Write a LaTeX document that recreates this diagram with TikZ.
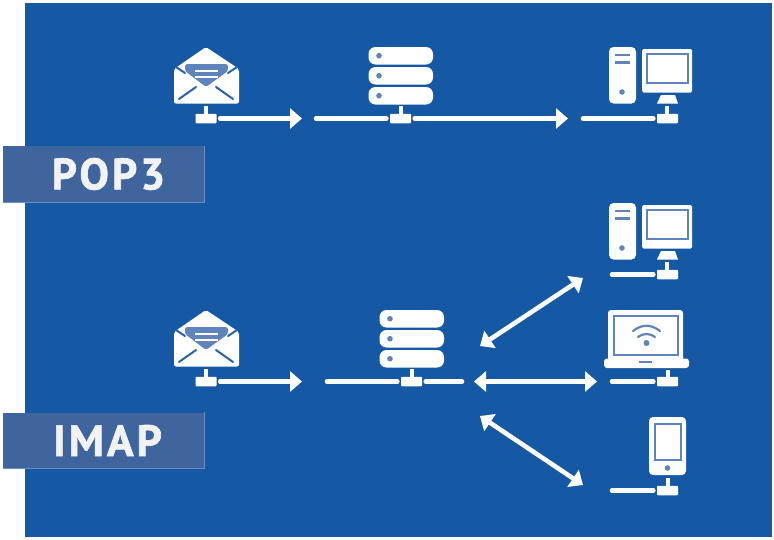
\documentclass[tikz,border=0pt]{standalone}
\usepackage{fontspec}
\newfontfamily\lblfont[LetterSpace=7,FakeBold=1.5]{PT Sans Bold}
\usetikzlibrary{arrows.meta}
\definecolor{bg}{HTML}{1558A3}
\definecolor{lab}{HTML}{3F659F}
\definecolor{labedge}{HTML}{6A8EC2}
\definecolor{soft}{HTML}{5F84BC}
\tikzset{
  x=1pt,y=-1pt,
  wire/.style={draw=white,line width=4.6pt,line cap=round},
  arrowline/.style={wire,-{Triangle[length=12pt,width=20pt]}},
  bothline/.style={wire,{Triangle[length=12pt,width=20pt]}-{Triangle[length=12pt,width=20pt]}},
  tbox/.style={fill=white,minimum width=21pt,minimum height=9.5pt,inner sep=0pt,rounded corners=0.8pt},
  label/.style={fill=lab,minimum width=201pt,minimum height=56pt,inner sep=0pt},
  labeltext/.style={text=white!95!black,inner sep=0pt,font=\lblfont\fontsize{44}{44}\selectfont},
  cut/.style={draw=bg!75!soft,line width=2pt,line cap=round},
  softcut/.style={draw=soft,line width=2.2pt,line cap=round},
  mail/.pic={
    \begin{scope}[shift={(-206,-118.5)}]
      \fill[white,rounded corners=2pt] (174,69)--(206,47)--(239,69)--(239,103.5)--(174,103.5)--cycle;
      \fill[soft,rounded corners=2.5pt] (185,64)--(228,64)--(228,71)--(206,87)--(185,71)--cycle;
      \draw[white,line width=2pt] (195,71)--(218,71) (195,77)--(218,77);
      \draw[cut] (176,67)--(185,73) (237,67)--(228,73) (179,99)--(196,87) (233,99)--(216,87);
      \fill[white] (204,106) rectangle (208,115);
      \node[tbox] (-box) at (206,118.5) {};
    \end{scope}
  },
  server/.pic={
    \begin{scope}[shift={(-400.5,-118.5)}]
      \foreach \yy in {47,67,87}{
        \fill[white,rounded corners=7pt] (368.5,\yy) rectangle (433,\yy+17.5);
        \fill[soft] (379,\yy+8.7) circle (2.8);
      }
      \fill[white] (398.5,106) rectangle (402.5,115);
      \node[tbox] (-box) at (400.5,118.5) {};
    \end{scope}
  },
  computer/.pic={
    \begin{scope}[shift={(-667,-118.5)}]
      \fill[white,rounded corners=4.5pt] (609,47) rectangle (636,103.5);
      \draw[softcut,line cap=butt] (615,55)--(630,55) (615,62.5)--(630,62.5);
      \fill[soft] (622,92) circle (2.8);
      \fill[white,rounded corners=1.5pt] (642,49) rectangle (692,92.5);
      \draw[soft,line width=2pt] (646.5,53.5) rectangle (687.5,83);
      \fill[white] (661,95)--(675,95)--(678,103.5)--(657,103.5)--cycle;
      \fill[white] (665,106) rectangle (669,115);
      \node[tbox] (-box) at (667.5,118.5) {};
    \end{scope}
  },
  laptop/.pic={
    \begin{scope}[shift={(-667.5,-381.5)}]
      \fill[white,rounded corners=3pt] (608,310) rectangle (683,362);
      \fill[white,rounded corners=3pt] (604,358.5) rectangle (689,368);
      \draw[soft,line width=2pt] (613.5,316) rectangle (678,354.5);
      \draw[softcut] (633,331) .. controls (642,324) and (651,324) .. (660,331);
      \draw[softcut] (638,337) .. controls (643,333) and (650,333) .. (655,337);
      \fill[soft] (646.5,343) circle (3);
      \draw[softcut,line cap=butt] (639,362)--(652,362);
      \fill[white] (665.5,370) rectangle (669.5,378);
      \node[tbox] (-box) at (667.5,381.5) {};
    \end{scope}
  },
  phone/.pic={
    \begin{scope}[shift={(-667.5,-490.5)}]
      \fill[white,rounded corners=4pt] (649,417) rectangle (686,475);
      \draw[soft,line width=2pt] (654.5,423.5) rectangle (680.5,459.5);
      \fill[soft] (667.5,468) circle (2.8);
      \fill[white] (665.5,478) rectangle (669.5,487);
      \node[tbox] (-box) at (667.5,490.5) {};
    \end{scope}
  },
}
\begin{document}
\begin{tikzpicture}
\useasboundingbox (0,0) rectangle (774,539);
\fill[white] (0,0) rectangle (774,539);
\fill[bg] (25,3) rectangle (772,537);
% labels
\node[label] (pop) at (103.5,174) {};
\node[label] (imap) at (103.5,440.5) {};
\node[labeltext] (popT) at (108.5,174) {POP3};
\node[labeltext] (imapT) at (107.5,440.5) {IMAP};
\draw[labedge,line width=0.8pt] (pop.south west)--(pop.south east)--(pop.north east);
\draw[labedge,line width=0.8pt] (imap.south west)--(imap.south east)--(imap.north east);
% POP3 row
\pic (mA) at (206,118.5) {mail};
\pic (sA) at (400.5,118.5) {server};
\pic (cA) at (667,118.5) {computer};
\coordinate (sAl) at (316,118.5);
\coordinate (aEnd) at (302,118.5);
\coordinate (bEnd) at (568,118.5);
\coordinate (cAl) at (583,118.5);
\draw[arrowline] ([xshift=3.5pt]mA-box.east) -- (aEnd);
\draw[wire] (sAl) -- ([xshift=-3.5pt]sA-box.west);
\draw[arrowline] ([xshift=3.5pt]sA-box.east) -- (bEnd);
\draw[wire] (cAl) -- ([xshift=-3.5pt]cA-box.west);
% IMAP row
\pic (mB) at (206,381.5) {mail};
\pic (sB) at (411.5,381.5) {server};
\pic (cB) at (667,274.5) {computer};
\pic (lB) at (667.5,381.5) {laptop};
\pic (pB) at (667.5,490.5) {phone};
\coordinate (cEnd) at (302,381.5);
\coordinate (sBl) at (327,381.5);
\coordinate (sBr) at (462,381.5);
\coordinate (hub) at (474,381.5);
\coordinate (hubUp) at (480,346);
\coordinate (hubDn) at (480,416);
\coordinate (toC) at (583,278);
\coordinate (toL) at (597,381.5);
\coordinate (toP) at (583,485);
\coordinate (cBl) at (612,274.5);
\coordinate (lBl) at (612,381.5);
\coordinate (pBl) at (612,490.5);
\draw[arrowline] ([xshift=3.5pt]mB-box.east) -- (cEnd);
\draw[wire] (sBl) -- ([xshift=-3.5pt]sB-box.west);
\draw[wire] ([xshift=3.5pt]sB-box.east) -- (sBr);
\draw[bothline] (hubUp) -- (toC);
\draw[bothline] (hub) -- (toL);
\draw[bothline] (hubDn) -- (toP);
\draw[wire] (cBl) -- ([xshift=-3.5pt]cB-box.west);
\draw[wire] (lBl) -- ([xshift=-3.5pt]lB-box.west);
\draw[wire] (pBl) -- ([xshift=-3.5pt]pB-box.west);
\end{tikzpicture}
\end{document}
